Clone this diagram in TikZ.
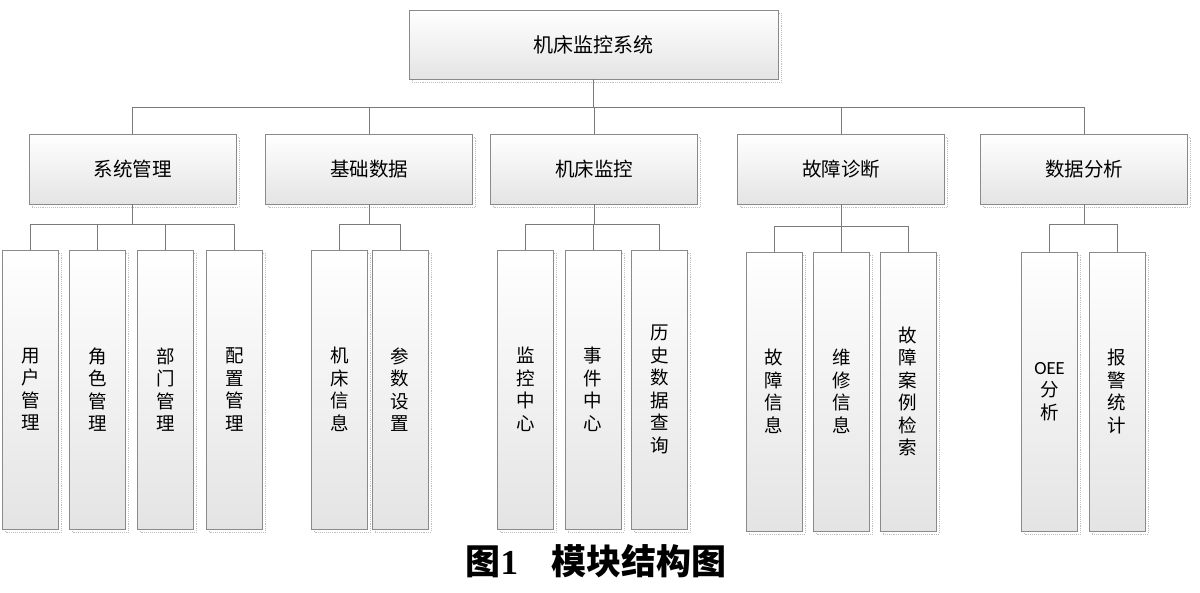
\documentclass[tikz,border=0pt]{standalone}
\usepackage{fontspec}
\setmainfont{Liberation Serif}
\newfontfamily\cjk{Noto Sans CJK SC}
\newfontfamily\oeefont{Carlito}
\definecolor{bd}{HTML}{8A8A8A}
\definecolor{ln}{HTML}{7A7A7A}
\definecolor{shadebot}{HTML}{E4E4E4}
\begin{document}
\begin{tikzpicture}[x=1pt,y=-1pt,
 box/.style={draw=bd, line width=0.9pt, top color=white, bottom color=shadebot, inner sep=0pt, outer sep=0pt,
   preaction={draw=gray!50, densely dotted, line width=0.9pt, transform canvas={xshift=3pt,yshift=-3pt}}},
 hbox/.style={box, minimum width=207pt, minimum height=70pt, font=\cjk\fontsize{19.5}{22}\selectfont},
 vbox/.style={box, minimum width=56pt, minimum height=279pt, align=center, font=\cjk\fontsize{18.5}{22.5}\selectfont},
 conn/.style={draw=ln, line width=0.9pt},
]
\useasboundingbox (0,0) rectangle (1200,592);
% root
\node[box, minimum width=369pt, minimum height=69pt, font=\cjk\fontsize{20}{24}\selectfont] (root) at (593.5,44.5) {机床监控系统};
% level 2
\node[hbox] (sys)  at (132.5,169) {系统管理};
\node[hbox] (base) at (369,169) {基础数据};
\node[hbox] (mon)  at (594,169) {机床监控};
\node[hbox] (diag) at (841,169) {故障诊断};
\node[hbox] (ana)  at (1084,169) {数据分析};
% leaves
\node[vbox] (u1) at (30.5,389.5) {用\\户\\管\\理};
\node[vbox] (u2) at (97.5,389.5) {角\\色\\管\\理};
\node[vbox] (u3) at (165.5,389.5) {部\\门\\管\\理};
\node[vbox] (u4) at (234.5,389.5) {配\\置\\管\\理};
\node[vbox] (b1) at (339.5,389.5) {机\\床\\信\\息};
\node[vbox] (b2) at (400,389.5) {参\\数\\设\\置};
\node[vbox] (m1) at (525.5,389.5) {监\\控\\中\\心};
\node[vbox] (m2) at (593,389.5) {事\\件\\中\\心};
\node[vbox] (m3) at (659.5,389.5) {历\\史\\数\\据\\查\\询};
\node[vbox] (d1) at (774,391.5) {故\\障\\信\\息};
\node[vbox] (d2) at (841.5,391.5) {维\\修\\信\\息};
\node[vbox] (d3) at (908,391.5) {故\\障\\案\\例\\检\\索};
\node[vbox] (a1) at (1049.5,391.5) {{\oeefont OEE}\\分\\析};
\node[vbox] (a2) at (1117,391.5) {报\\警\\统\\计};
% connectors
\foreach \c in {sys,base,mon,diag,ana}
  \draw[conn] (root.south) -- (root.south |- 0,107) -| (\c.north);
\foreach \c in {u1,u2,u3,u4}
  \draw[conn] (sys.south) -- (sys.south |- 0,224) -| (\c.north);
\foreach \c in {b1,b2}
  \draw[conn] (base.south) -- (base.south |- 0,224) -| (\c.north);
\foreach \c in {m1,m2,m3}
  \draw[conn] (mon.south) -- (mon.south |- 0,224) -| (\c.north);
\foreach \c in {d1,d2,d3}
  \draw[conn] (diag.south) -- (diag.south |- 0,226) -| (\c.north);
\foreach \c in {a1,a2}
  \draw[conn] (ana.south) -- (ana.south |- 0,224) -| (\c.north);
% caption
\node[font=\fontsize{35}{38}\selectfont\bfseries] (cap) at (596,561) {{\cjk 图}1\hspace{0.95em}{\cjk 模块结构图}};
\end{tikzpicture}
\end{document}
